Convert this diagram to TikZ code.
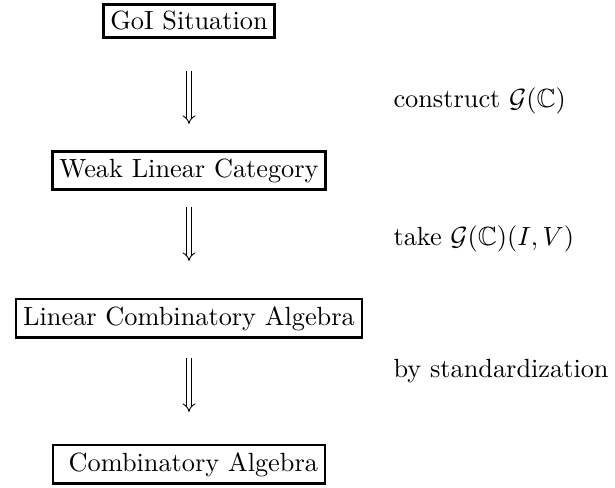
\documentclass[tikz,border=0pt]{standalone}
\usepackage{amsmath,amssymb}
\usetikzlibrary{arrows.meta}
\begin{document}
\begin{tikzpicture}[x=1pt,y=-1pt,
  box/.style={draw,line width=2.6pt,inner sep=2.7pt,scale=2.63,transform shape,anchor=base},
  lab/.style={anchor=base west,inner sep=0pt,scale=2.63,transform shape},
  impl/.style={double,double distance=3.6pt,line width=0.9pt,-{Implies[length=7pt,width=15pt]}}]
\useasboundingbox (0,0) rectangle (615,487);
\node[box] (goi) at (189,30) {GoI Situation};
\node[box] (wlc) at (189,177) {Weak Linear Category};
\node[box] (lca) at (189,325) {Linear Combinatory Algebra};
\node[box] (ca) at (189,471) {\hspace{3.33pt}Combinatory Algebra};
\coordinate (a1s) at (189,71); \coordinate (a1e) at (189,124);
\coordinate (a2s) at (189,207); \coordinate (a2e) at (189,261);
\coordinate (a3s) at (189,358); \coordinate (a3e) at (189,412);
\draw[impl] (a1s) -- (a1e);
\draw[impl] (a2s) -- (a2e);
\draw[impl] (a3s) -- (a3e);
\node[lab] (l1) at (393,107) {construct $\mathcal{G}(\mathbb{C})$};
\node[lab] (l2) at (393,245) {take $\mathcal{G}(\mathbb{C})(I,V)$};
\node[lab] (l3) at (393,377) {by standardization};
\end{tikzpicture}
\end{document}
